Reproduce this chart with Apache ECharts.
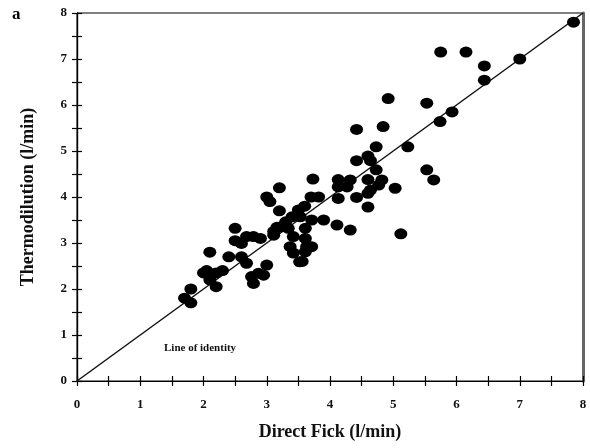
<!DOCTYPE html>
<html>
<head>
<meta charset="utf-8">
<script src="https://cdn.jsdelivr.net/npm/echarts@6/dist/echarts.min.js"></script>
<style>
  html, body { margin: 0; padding: 0; background: #fff; }
  #chart { width: 590px; height: 448px; }
</style>
</head>
<body>
<div id="chart"></div>
<script>
// Direct Fick (x) vs thermodilution (y), l/min
const fick = [
  1.7, 1.8, 1.8, 2.0, 2.05, 2.1, 2.2, 2.2, 2.3, 2.1, 2.4,
  2.5, 2.5, 2.68, 2.79, 2.9, 2.6, 2.6, 2.68, 3.0, 2.76, 2.79, 2.95, 2.87,
  3.11, 3.21, 3.42, 3.61, 3.37, 3.42, 3.63, 3.52, 3.71, 3.16, 3.11, 3.34,
  3.0, 3.05, 3.2, 3.2, 3.5, 3.6, 3.4, 3.3, 3.53, 3.71, 3.9, 3.7, 3.82,
  3.73, 4.13, 4.13, 4.13, 4.27, 4.32, 4.42, 4.11, 4.32, 3.61, 3.56, 3.61,
  4.6, 4.6, 4.6, 4.64, 4.77, 4.82, 5.03, 4.73, 4.64, 4.6, 4.42, 4.73,
  4.42, 4.84, 5.23, 5.12, 5.53, 5.64, 4.92, 5.53, 5.74, 5.93,
  5.75, 6.15, 6.44, 6.44, 7.0, 7.85
];
const thermo = [
  1.8, 1.7, 2.0, 2.35, 2.4, 2.2, 2.05, 2.35, 2.4, 2.8, 2.7,
  3.32, 3.05, 3.14, 3.14, 3.1, 2.99, 2.7, 2.56, 2.52, 2.27, 2.12, 2.3, 2.34,
  3.25, 3.35, 3.14, 3.1, 2.92, 2.78, 2.92, 2.59, 2.92, 3.34, 3.17, 3.32,
  4.0, 3.9, 4.2, 3.7, 3.72, 3.8, 3.57, 3.46, 3.57, 3.5, 3.5, 4.0, 4.0,
  4.39, 4.38, 4.22, 3.97, 4.22, 4.37, 3.99, 3.39, 3.28, 3.32, 2.6, 2.81,
  4.38, 4.08, 3.78, 4.15, 4.26, 4.37, 4.19, 4.59, 4.79, 4.89, 4.79, 5.09,
  5.47, 5.53, 5.09, 3.2, 4.59, 4.37, 6.14, 6.04, 5.64, 5.85,
  7.15, 7.15, 6.85, 6.54, 7.0, 7.8
];
const identity = [[0, 0], [8, 8]];
const tickLabels = ['0', '1', '2', '3', '4', '5', '6', '7', '8'];

const points = fick.map((x, i) => [x, thermo[i]]);
const serif = '"Liberation Serif", "DejaVu Serif", serif';

function intLabel(v) {
  return Number.isInteger(v) ? tickLabels[v] : '';
}

const chart = echarts.init(document.getElementById('chart'));

const baseAxis = {
  type: 'value',
  min: 0,
  max: 8,
  interval: 0.5,
  splitLine: { show: false },
  axisLine: { lineStyle: { color: '#000', width: 1.2 } },
  axisTick: { length: 5, lineStyle: { color: '#000', width: 1.2 } }
};

chart.setOption({
  animation: false,
  backgroundColor: '#fff',
  grid: { left: 77, right: 7, top: 13, bottom: 67, show: true, borderColor: '#000', borderWidth: 1 },
  graphic: [
    { type: 'text', left: 12, top: 6, style: { text: 'a', font: 'bold 17px ' + serif, fill: '#000' } },
    { type: 'text', left: 164, top: 343, style: { text: 'Line of identity', font: 'bold 11px ' + serif, fill: '#111' } }
  ],
  xAxis: [
    Object.assign({}, baseAxis, {
      position: 'bottom',
      name: 'Direct Fick (l/min)',
      nameLocation: 'middle',
      nameGap: 42,
      nameTextStyle: { fontFamily: serif, fontWeight: 'bold', fontSize: 18, color: '#111' },
      axisLabel: { formatter: intLabel, margin: 17, fontFamily: serif, fontWeight: 'bold', fontSize: 13, color: '#111' }
    }),
    Object.assign({}, baseAxis, {
      position: 'bottom',
      axisTick: { inside: true, length: 5, lineStyle: { color: '#000', width: 1.2 } },
      axisLabel: { show: false }
    })
  ],
  yAxis: [
    Object.assign({}, baseAxis, {
      position: 'left',
      name: 'Thermodilution (l/min)',
      nameLocation: 'middle',
      nameGap: 40,
      nameTextStyle: { fontFamily: serif, fontWeight: 'bold', fontSize: 18, color: '#111' },
      axisLabel: { formatter: intLabel, margin: 10, fontFamily: serif, fontWeight: 'bold', fontSize: 13, color: '#111' }
    }),
    Object.assign({}, baseAxis, {
      position: 'left',
      axisTick: { inside: true, length: 5, lineStyle: { color: '#000', width: 1.2 } },
      axisLabel: { show: false }
    }),
    Object.assign({}, baseAxis, {
      position: 'right',
      axisLine: { lineStyle: { color: '#666', width: 3 } },
      axisTick: { show: false },
      axisLabel: { show: false }
    })
  ],
  series: [
    {
      type: 'line',
      data: identity,
      symbol: 'none',
      lineStyle: { color: '#111', width: 1.5 },
      z: 2
    },
    {
      type: 'scatter',
      data: points,
      symbol: 'circle',
      symbolSize: [13, 11],
      itemStyle: { color: '#000', opacity: 1 },
      z: 3
    }
  ]
});
</script>
</body>
</html>
